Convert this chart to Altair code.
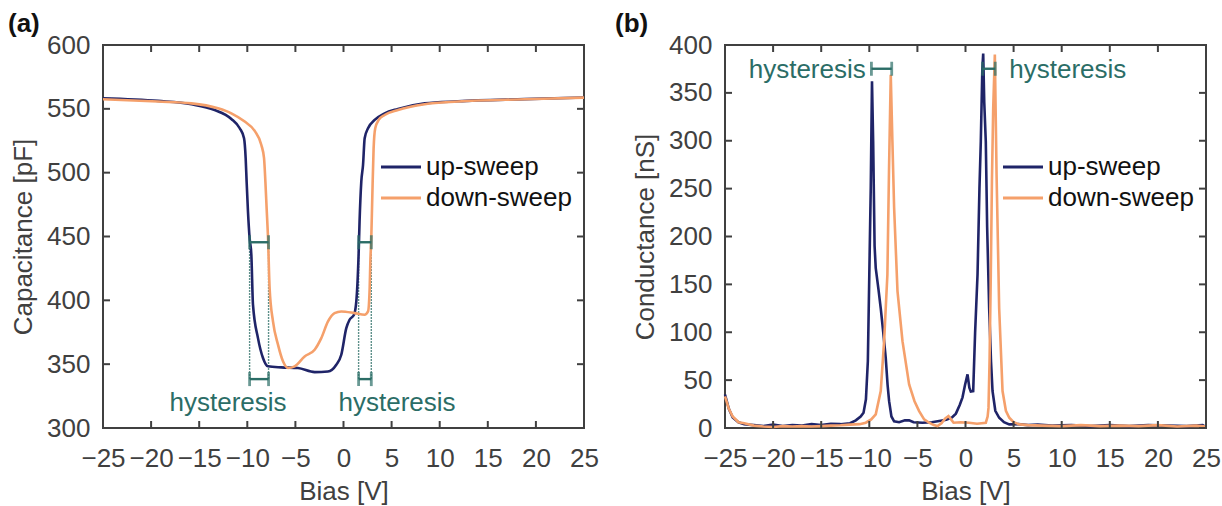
import altair as alt
import pandas as pd

# ---------------- Panel (a): capacitance ----------------
a_up_bias = [-25, -19.28, -15.8, -13.39, -11.66, -10.79, -10.34, -10.17, -10.07, -9.93, -9.76,
             -9.58, -9.41, -8.89, -8.37, -7.85, -6.47, -4.74, -3.0, -1.62, -0.75, -0.23, 0.29,
             0.63, 1.09, 1.33, 1.57, 1.67, 1.85, 2.03, 2.2, 2.55, 3.24, 4.28, 5.66, 8.44, 11.9,
             18.83, 25]
a_up_cap = [558.3, 556.2, 553.6, 549.1, 542.1, 534.8, 527, 511.3, 493, 469.6, 448.7,
            435.7, 396.6, 370.4, 354.8, 348.3, 347.5, 347, 343.8, 344.3, 349.6, 357.4, 378.2,
            384.8, 388.7, 399, 435.7, 461.7, 493, 506, 527, 534.8, 541.3, 546.5, 549.9, 554.3, 555.9,
            557.6, 558.9]

a_down_bias = [-25, -19.28, -15.8, -13.05, -11.66, -10.27, -9.23, -8.54, -8.26, -8.12, -7.99,
               -7.85, -7.68, -7.33, -6.81, -6.29, -5.77, -5.08, -4.04, -3.0, -2.31, -1.61, -0.93,
               -0.23, 1.15, 2.19, 2.55, 2.72, 2.79, 2.89, 2.99, 3.13, 3.3, 3.66, 4.28, 5.66, 8.44,
               11.9, 18.83, 25]
a_down_cap = [557.5, 555.7, 554.3, 550.4, 546.5, 540, 532.7, 521.7, 511.3, 493, 472,
              449.5, 409.5, 383.5, 365.3, 352.2, 347, 348.3, 356.1, 361.3, 370.4, 383.5, 390,
              391.3, 390, 388.7, 391.3, 409.5, 430, 449.5, 480, 519, 534.8, 541.3, 545.2, 549.1, 553.6,
              555.7, 557.5, 558.8]

a_hyst_left = [-9.76, 1.57]
a_hyst_right = [-7.79, 2.89]
a_hyst_upper = 445.5
a_hyst_lower = 338.3
a_label_bias = [-12.0, 5.57]
a_label_cap = [313, 313]

a_xticks = [-25, -20, -15, -10, -5, 0, 5, 10, 15, 20, 25]
a_yticks = [300, 350, 400, 450, 500, 550, 600]

# ---------------- Panel (b): conductance ----------------
b_up_bias = [-25, -24.6, -24.2, -23.6, -23, -22, -21, -20, -19, -18, -17, -16, -15, -14, -13, -12,
             -11.4, -10.9, -10.6, -10.35, -10.15, -10.0, -9.85, -9.72, -9.6, -9.45, -9.33, -9.05,
             -8.81, -8.55, -8.29, -8.1, -7.94, -7.7, -7.42, -6.9, -6.3, -5.86, -5.4, -4.47, -3.5,
             -2.74, -2.0, -1.4, -1.0, -0.6, -0.31, -0.05, 0.21, 0.4, 0.55, 0.8, 1.0, 1.25, 1.45,
             1.59, 1.75, 1.84, 1.95, 2.11, 2.25, 2.46, 2.65, 2.81, 3.1, 3.5, 4.0, 4.55, 5.5, 6.5,
             7.5, 9, 11, 13, 15, 17, 19, 21, 23, 24.65, 25]
b_up_cond = [35, 20, 11, 6, 4, 3, 2, 3.5, 2, 3, 2.5, 4, 3, 4.5, 4, 5,
             8, 12, 16, 30, 70, 160, 250, 362, 300, 190, 167, 145,
             125, 100, 73, 45, 28, 12, 7, 6, 8, 8, 6, 5.5, 6,
             7.3, 8.5, 11, 15, 24, 32, 45, 56, 42, 38, 38.5, 100, 160, 250,
             299, 375, 391, 340, 299, 210, 125, 70, 38.6, 18, 10.7, 6, 3.8, 4, 3,
             3.5, 2.5, 3, 2, 3, 2, 3, 2.5, 2, 3, 1]

b_down_bias = [-25, -24.6, -24.2, -23.6, -23, -22, -21, -20, -19, -18, -17, -16, -15, -14, -13, -12,
               -11, -10.37, -9.8, -9.33, -8.81, -8.46, -8.12, -7.95, -7.77, -7.6, -7.42, -7.07,
               -6.55, -5.86, -5.3, -4.82, -4.3, -3.78, -3.3, -2.91, -2.5, -2.1, -1.77, -1.5, -1.24,
               -0.5, 0.38, 1.2, 2.11, 2.3, 2.39, 2.5, 2.63, 2.75, 2.88, 3.05, 3.15, 3.23, 3.5, 3.85,
               4.2, 4.55, 5.0, 5.59, 6.5, 8, 10, 12, 14, 16, 18, 20, 22, 24, 25]
b_down_cond = [33, 20, 12, 6, 5, 2.5, 1.5, 1, 2, 1.5, 2, 1.5, 2, 2.5, 2.8, 3.5,
               4, 5.5, 9, 14.3, 38.6, 90.7, 160, 270, 369, 300, 230, 143,
               90.7, 45.6, 28, 17.7, 9, 5.5, 3, 2.1, 5, 10, 12.5, 9, 5.5,
               6, 5.5, 4.5, 5.5, 12, 21, 70, 160, 260, 334, 390, 320, 264.5, 125, 38.6,
               18, 10.7, 6, 3.8, 3, 2.5, 2, 3, 2, 2.5, 2, 3, 1.5, 2.5, 1.5]

b_hyst_left = [-9.78, 1.77]
b_hyst_right = [-7.67, 3.09]
b_hyst_level = 375.2
b_label_bias = [-10.37, 4.55]
b_label_cond = [365.8, 365.8]

b_xticks = [-25, -20, -15, -10, -5, 0, 5, 10, 15, 20, 25]
b_yticks = [0, 50, 100, 150, 200, 250, 300, 350, 400]

series_names = ["up-sweep", "down-sweep"]

# ---------------- styles ----------------
NAVY = "#1f2468"
ORANGE = "#f5a06b"
TEAL = "#2b6d66"
AXC = "#404040"
FONT = "Liberation Sans"
FS = 26
W, H = 481, 383
TICK = 7


def panel(xcol, ycol, xticks, yticks, ydomain, ytitle, up_x, up_y, dn_x, dn_y, tag, interp):
    lines = pd.DataFrame({
        xcol: list(up_x) + list(dn_x),
        ycol: list(up_y) + list(dn_y),
        "series": [series_names[0]] * len(up_x) + [series_names[1]] * len(dn_x),
    })
    xs = alt.Scale(domain=[-25, 25], nice=False, zero=False)
    ys = alt.Scale(domain=ydomain, nice=False, zero=False)
    X = alt.X(f"{xcol}:Q", scale=xs,
              axis=alt.Axis(values=xticks, format="d", title="Bias [V]"))
    Y = alt.Y(f"{ycol}:Q", scale=ys,
              axis=alt.Axis(values=yticks, format="d", title=ytitle))

    line = alt.Chart(lines).mark_line(strokeWidth=2.6, interpolate=interp).encode(
        x=X, y=Y,
        color=alt.Color("series:N",
                        scale=alt.Scale(domain=series_names, range=[NAVY, ORANGE]),
                        legend=alt.Legend(orient="none", legendX=295, legendY=109,
                                          title=None, symbolType="M-3,0H1", symbolSize=400,
                                          symbolStrokeWidth=3, symbolFillColor="transparent",
                                          labelFont=FONT, labelFontSize=FS, labelColor="#111111",
                                          labelOffset=2, rowPadding=5, padding=0,
                                          labelLimit=400)),
    )

    xt = pd.DataFrame({xcol: xticks})
    yt = pd.DataFrame({ycol: yticks})
    tb = alt.Chart(xt).mark_rule(color=AXC, strokeWidth=2).encode(
        x=X, y=alt.value(H), y2=alt.value(H - TICK))
    tt = alt.Chart(xt).mark_rule(color=AXC, strokeWidth=2).encode(
        x=X, y=alt.value(0), y2=alt.value(TICK))
    tl = alt.Chart(yt).mark_rule(color=AXC, strokeWidth=2).encode(
        y=Y, x=alt.value(0), x2=alt.value(TICK))
    tr = alt.Chart(yt).mark_rule(color=AXC, strokeWidth=2).encode(
        y=Y, x=alt.value(W), x2=alt.value(W - TICK))

    tagc = alt.Chart(pd.DataFrame({"t": [tag[0]]})).mark_text(
        font=FONT, fontSize=FS, fontWeight="bold", align="left", baseline="middle",
        color="#111111").encode(x=alt.value(tag[1]), y=alt.value(-21), text="t:N")
    return X, Y, [line, tb, tt, tl, tr, tagc]


# ----- panel a -----
Xa, Ya, la = panel("bias", "cap", a_xticks, a_yticks, [300, 600], "Capacitance [pF]",
                   a_up_bias, a_up_cap, a_down_bias, a_down_cap, ("(a)", -95), "monotone")

ha_rows = []
for l, r in zip(a_hyst_left, a_hyst_right):
    for lev in (a_hyst_upper, a_hyst_lower):
        ha_rows.append({"bias": l, "bias2": r, "cap": lev})
ha = pd.DataFrame(ha_rows)
ha_bar = alt.Chart(ha).mark_rule(color=TEAL, strokeWidth=2.4).encode(
    x=Xa, x2="bias2:Q", y=Ya)
caps_a = pd.DataFrame({
    "bias": [v for v in a_hyst_left + a_hyst_right for _ in (0, 1)],
    "cap": [a_hyst_upper, a_hyst_lower] * 4,
})
ha_caps = alt.Chart(caps_a).mark_tick(color=TEAL, orient="vertical", size=14,
                                        thickness=2.8).encode(x=Xa, y=Ya)
dots_a = pd.DataFrame({"bias": a_hyst_left + a_hyst_right,
                       "cap": [a_hyst_upper] * 4, "cap2": [a_hyst_lower] * 4})
ha_dots = alt.Chart(dots_a).mark_rule(color=TEAL, strokeWidth=1.4, strokeDash=[1.4, 1.6]).encode(
    x=Xa, y=Ya, y2="cap2:Q")
labels_a = pd.DataFrame({"bias": a_label_bias, "cap": a_label_cap,
                         "txt": ["hysteresis", "hysteresis"]})
ha_text = alt.Chart(labels_a).mark_text(font=FONT, fontSize=FS, color=TEAL,
                                         baseline="alphabetic", align="center").encode(
    x=Xa, y=Ya, text="txt:N")

chart_a = alt.layer(ha_dots, la[0], ha_bar, ha_caps, ha_text, *la[1:]).properties(
    width=W, height=H)

# ----- panel b -----
Xb, Yb, lb = panel("bias", "cond", b_xticks, b_yticks, [0, 400], "Conductance [nS]",
                   b_up_bias, b_up_cond, b_down_bias, b_down_cond, ("(b)", -110), "linear")
hb = pd.DataFrame({"bias": b_hyst_left, "bias2": b_hyst_right,
                   "cond": [b_hyst_level] * 2})
hb_bar = alt.Chart(hb).mark_rule(color=TEAL, strokeWidth=2.4).encode(
    x=Xb, x2="bias2:Q", y=Yb)
caps_b = pd.DataFrame({"bias": b_hyst_left + b_hyst_right,
                       "cond": [b_hyst_level] * 4})
hb_caps = alt.Chart(caps_b).mark_tick(color=TEAL, orient="vertical", size=14,
                                        thickness=2.8).encode(x=Xb, y=Yb)
labels_b = pd.DataFrame({"bias": [b_label_bias[0]], "cond": [b_label_cond[0]],
                         "txt": ["hysteresis"]})
labels_b2 = pd.DataFrame({"bias": [b_label_bias[1]], "cond": [b_label_cond[1]],
                          "txt": ["hysteresis"]})
hb_text1 = alt.Chart(labels_b).mark_text(font=FONT, fontSize=FS, color=TEAL,
                                          baseline="alphabetic", align="right").encode(
    x=Xb, y=Yb, text="txt:N")
hb_text2 = alt.Chart(labels_b2).mark_text(font=FONT, fontSize=FS, color=TEAL,
                                           baseline="alphabetic", align="left").encode(
    x=Xb, y=Yb, text="txt:N")

chart_b = alt.layer(lb[0], hb_bar, hb_caps, hb_text1, hb_text2, *lb[1:]).properties(
    width=W, height=H)

chart = alt.hconcat(chart_a, chart_b, spacing=14).resolve_scale(
    x="independent", y="independent", color="independent"
).resolve_legend(color="independent").properties(
    padding={"left": 7, "top": 10, "right": 0, "bottom": 0}
).configure_view(
    stroke=AXC, strokeWidth=2
).configure_axis(
    domain=False, ticks=False, tickSize=0, grid=False,
    labelFont=FONT, labelFontSize=FS, labelColor=AXC, labelFlush=False,
    labelOverlap=False,
    titleFont=FONT, titleFontSize=FS, titleColor=AXC, titleFontWeight="normal",
).configure_axisX(
    labelPadding=17, titlePadding=7
).configure_axisY(
    labelPadding=13, titlePadding=10
)

chart.save("out.html", embed_options={"renderer": "svg", "actions": False})
